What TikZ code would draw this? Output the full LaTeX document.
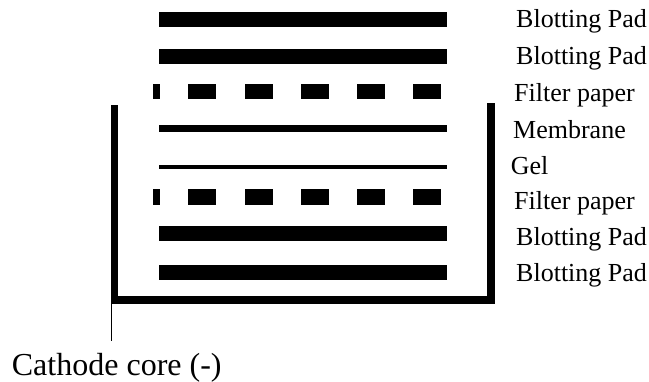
\documentclass[tikz,border=0pt]{standalone}
\usepackage{fontspec}
\setmainfont{Liberation Serif}
\begin{document}
\begin{tikzpicture}[x=1pt,y=-1pt,
  pad/.style={line width=15pt},
  wall/.style={line width=7.5pt,line join=miter},
  lab/.style={anchor=base west,inner sep=0pt,font=\fontsize{26}{26}\selectfont}]
\useasboundingbox (0,0) rectangle (649,381);

% blotting pads
\foreach \y/\n in {19.2/p1,56.5/p2,233.7/p3,272.3/p4}{
  \coordinate (\n a) at (159,\y);
  \coordinate (\n b) at (447,\y);
  \draw[pad] (\n a) -- (\n b);
}

% filter papers (dashed)
\foreach \y in {91.7,197}{
  \fill (153,\y-7.6) rectangle (160,\y+7.6);
  \foreach \x in {188,245,301,357,413}
    \fill (\x,\y-7.6) rectangle (\x+28,\y+7.6);
}

% membrane and gel
\coordinate (ma) at (159,128.5); \coordinate (mb) at (447,128.5);
\draw[line width=7.5pt] (ma) -- (mb);
\coordinate (ga) at (159,167); \coordinate (gb) at (447,167);
\draw[line width=4.5pt] (ga) -- (gb);

% tank
\coordinate (tl) at (114.5,105);
\coordinate (bl) at (114.5,300);
\coordinate (br) at (490.8,300);
\coordinate (tr) at (490.8,102.7);
\draw[wall] (tl) -- (bl) -- (br) -- (tr);

% lead to the cathode
\coordinate (lead) at (111.5,300);
\coordinate (leadend) at (111.5,341);
\draw[line width=1.5pt] (lead) -- (leadend);

% labels
\node[lab] (l1) at (516,27) {Blotting Pad};
\node[lab] (l2) at (516,64) {Blotting Pad};
\node[lab] (l3) at (514,101) {Filter paper};
\node[lab] (l4) at (513,138.5) {Membrane};
\node[lab] (l5) at (510.7,174.5) {Gel};
\node[lab] (l6) at (514,209.5) {Filter paper};
\node[lab] (l7) at (516,245) {Blotting Pad};
\node[lab] (l8) at (516,281.5) {Blotting Pad};
\node[anchor=base west,inner sep=0pt,font=\fontsize{32}{32}\selectfont] (cath) at (11.7,375) {Cathode core (-)};
\end{tikzpicture}
\end{document}
